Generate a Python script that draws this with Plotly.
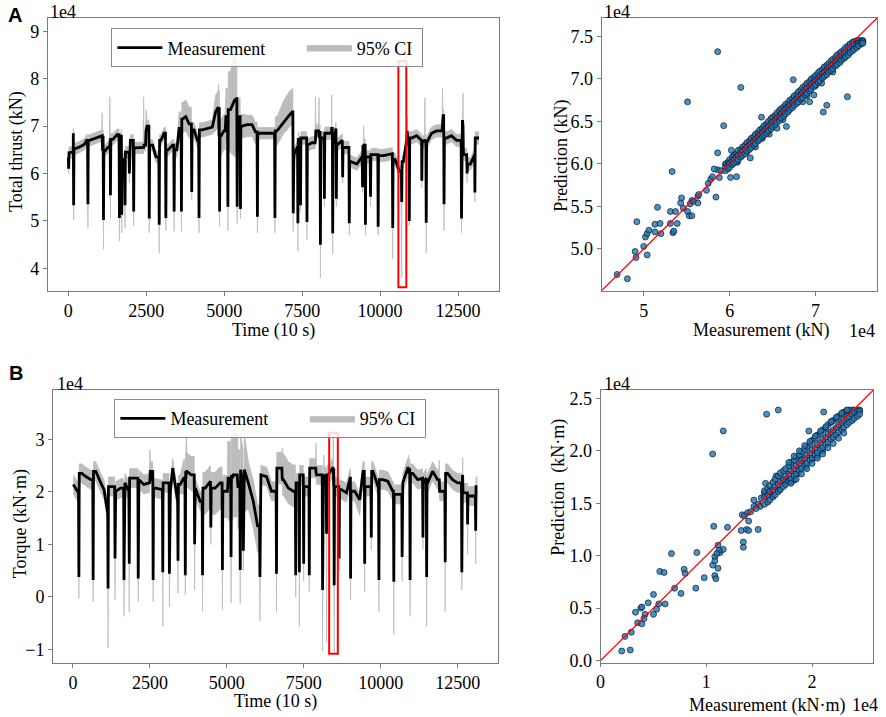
import numpy as np
import plotly.graph_objects as go

# ---------------- Panel A : total thrust (units of 1e4 kN) ----------------
A_base_t = [0, 75, 128, 200, 362, 521, 585, 681, 840, 1032,
            1181, 1266, 1426, 1564, 1745, 1883, 1990, 2139, 2330, 2458,
            2522, 2703, 2810, 2970, 3075, 3203, 3341, 3480, 3554, 3660,
            3767, 3873, 4033, 4139, 4299, 4458, 4618, 4724, 4799, 4905,
            4990, 5097, 5203, 5331, 5394, 5469, 5575, 5735, 5894, 6001,
            6161, 6373, 6693, 6916, 7076, 7182, 7235, 7342, 7501, 7661,
            7820, 7980, 8139, 8299, 8458, 8618, 8777, 8937, 9065, 9256,
            9416, 9522, 9682, 9895, 10108, 10321, 10480, 10618, 10746, 10852,
            11012, 11171, 11331, 11490, 11650, 11810, 12023, 12129, 12289, 12449,
            12640, 12768, 12896, 13034, 13172]
A_base_y = [6.34, 6.44, 6.45, 6.52, 6.56, 6.62, 6.70, 6.70, 6.74, 6.80,
            6.48, 6.55, 6.72, 6.82, 6.30, 6.45, 6.70, 6.54, 6.54, 6.60,
            7.00, 6.60, 6.35, 6.70, 6.85, 6.50, 6.60, 6.50, 6.95, 7.15,
            7.20, 7.05, 6.92, 6.70, 6.92, 6.95, 6.98, 7.30, 7.40, 6.80,
            6.90, 7.20, 7.35, 7.55, 7.58, 7.20, 7.00, 7.03, 7.03, 6.88,
            6.85, 6.85, 6.90, 7.10, 7.22, 7.30, 6.40, 6.55, 6.75, 6.60,
            6.65, 6.90, 6.75, 6.85, 6.95, 6.60, 6.70, 6.55, 6.25, 6.20,
            6.35, 6.60, 6.35, 6.40, 6.38, 6.42, 6.30, 6.05, 6.25, 6.70,
            6.75, 6.80, 6.70, 6.65, 6.85, 6.90, 7.22, 6.75, 6.80, 6.70,
            7.10, 6.40, 6.20, 6.40, 6.75]
A_ci_below = [0.12] * 27 + [0.15, 0.30, 0.30, 0.30, 0.30, 0.15, 0.15, 0.15, 0.15,
              0.15, 0.40, 0.40, 0.40, 0.40, 0.50, 0.90, 1.20, 1.10, 0.50,
              0.25, 0.25, 0.25, 0.25, 0.12, 0.12, 0.30, 0.25, 0.25, 0.25] + [0.13] * 39
A_ci_above = [0.12] * 27 + [0.15, 0.35, 0.35, 0.35, 0.35, 0.15, 0.15, 0.15, 0.15,
              0.15, 0.35, 0.35, 0.35, 0.35, 0.60, 0.80, 1.00, 0.80, 0.40,
              0.25, 0.20, 0.20, 0.20, 0.12, 0.12, 0.30, 0.45, 0.50, 0.50] + [0.13] * 39
A_dip_t = [11, 170, 628, 1128, 1351, 1639, 1713, 1819, 1958, 2096,
           2596, 2915, 3128, 3394, 3628, 3958, 4192, 4852, 5118, 5416,
           5522, 6065, 6627, 7214, 7363, 7448, 7655, 8086, 8214, 8480,
           8597, 8799, 9012, 9437, 9530, 9693, 9938, 10405, 10693, 10937,
           11338, 11480, 12051, 12611, 12790, 13040]
A_dip_y = [6.10, 5.33, 5.35, 5.02, 5.54, 5.06, 5.13, 5.33, 6.00, 5.20,
           5.05, 4.92, 5.06, 5.20, 5.20, 5.61, 5.06, 5.20, 5.30, 5.30,
           5.25, 5.09, 5.06, 5.16, 4.95, 5.33, 4.98, 4.50, 5.47, 4.74,
           5.47, 5.92, 4.95, 5.71, 4.92, 5.51, 4.88, 4.85, 5.40, 5.00,
           5.85, 4.96, 5.35, 5.05, 6.00, 5.60]
A_dip_ci = [6.00, 5.02, 4.85, 4.40, 5.05, 4.57, 4.75, 4.85, 5.80, 4.90,
            4.75, 4.33, 4.80, 4.78, 4.78, 5.45, 4.75, 4.88, 4.80, 4.95,
            5.05, 4.75, 4.75, 4.78, 4.36, 5.20, 4.60, 3.80, 5.30, 4.30,
            5.30, 5.80, 4.70, 5.60, 4.70, 5.30, 4.70, 4.20, 3.81, 4.90,
            5.70, 4.33, 4.80, 4.75, 5.80, 5.40]
A_up_t = [160, 1085, 1330, 2415, 2490, 4820, 5043, 7927, 8040, 8450, 9470, 10870, 11437, 12000, 12660]
A_up_y = [6.85, 6.80, 6.60, 6.55, 6.90, 7.30, 7.00, 6.70, 6.80, 6.95, 6.40, 6.90, 6.70, 7.20, 7.00]
A_up_ci = [6.95, 7.28, 7.62, 7.62, 7.35, 7.90, 7.80, 7.62, 7.60, 7.66, 7.00, 7.20, 7.60, 7.80, 7.70]
A_box = [10586, 10841, 3.60, 8.37]   # highlighted window (time0, time1, low, high)

# ---------------- Panel B : torque (units of 1e4 kN·m) ----------------
B_base_t = [11, 151, 291, 420, 582, 743, 905, 1012, 1120, 1228,
            1389, 1551, 1691, 1820, 1982, 2143, 2305, 2466, 2542, 2682,
            2843, 3005, 3166, 3242, 3382, 3489, 3597, 3705, 3845, 3974,
            4136, 4297, 4459, 4620, 4782, 4943, 5105, 5267, 5428, 5568,
            5697, 5859, 5999, 6107, 6290, 6451, 6667, 6839, 7000, 7162,
            7324, 7485, 7647, 7808, 7970, 8131, 8293, 8433, 8562, 8724,
            8885, 9014, 9154, 9316, 9424, 9585, 9747, 9908, 10070, 10231,
            10393, 10554, 10716, 10877, 11039, 11200, 11362, 11523, 11685, 11846,
            12008, 12169, 12331, 12492, 12654, 12815, 12977, 13138]
B_base_y = [2.14, 2.01, 2.35, 2.29, 2.23, 2.39, 2.17, 2.04, 1.63, 2.10,
            2.01, 2.07, 2.17, 2.01, 2.26, 2.23, 2.14, 2.17, 2.39, 2.07,
            2.04, 2.17, 2.01, 2.45, 1.82, 2.14, 2.26, 2.39, 2.32, 2.07,
            1.82, 2.07, 2.20, 2.07, 2.17, 2.01, 2.26, 2.32, 2.10, 2.42,
            2.17, 1.82, 1.35, 2.32, 2.29, 2.01, 2.45, 2.23, 2.07, 2.01,
            2.17, 2.32, 2.10, 2.45, 2.32, 2.26, 2.32, 2.45, 2.10, 2.04,
            1.98, 2.26, 2.01, 1.85, 2.39, 2.10, 2.39, 2.07, 2.23, 2.20,
            2.01, 1.95, 2.17, 2.45, 2.35, 2.23, 2.26, 2.17, 2.39, 2.23,
            2.01, 2.35, 2.23, 2.17, 2.32, 1.98, 1.92, 2.10]
B_ci_below = [0.18] * 26 + [0.30, 0.30, 0.30, 0.18, 0.18, 0.50, 0.50, 0.50, 0.50, 0.50,
              0.80, 0.80, 0.80, 0.80, 0.50, 0.50, 0.50, 0.18, 0.18, 0.18,
              0.30, 0.30, 0.30, 0.30] + [0.18] * 13 + [0.30] + [0.18] * 24
B_ci_above = [0.18] * 26 + [0.35, 0.35, 0.35, 0.18, 0.18, 0.30, 0.30, 0.30, 0.30, 0.30,
              0.70, 0.80, 0.70, 0.70, 0.40, 0.40, 0.40, 0.18, 0.18, 0.18,
              0.30, 0.50, 0.50, 0.50] + [0.18] * 13 + [0.10] + [0.18] * 24
B_dip_t = [194, 657, 1142, 1368, 1659, 1830, 2122, 2606, 2919, 3134,
           3414, 3651, 3953, 4211, 4480, 4857, 5137, 5435, 5536, 6075,
           6613, 7237, 7356, 7495, 7679, 8110, 8239, 8487, 8648, 9020,
           9477, 9693, 9940, 10424, 10694, 10953, 11370, 11491, 12094, 12633,
           12820, 13084]
B_dip_y = [0.38, 0.32, 0.16, 0.73, 0.32, 0.63, 0.35, 0.32, 0.47, 0.44,
           0.69, 0.41, 1.00, 0.41, 1.32, 0.51, 0.76, 0.51, 0.88, 0.38,
           0.44, 0.41, 0.47, 0.63, 0.41, 0.13, 1.20, 0.22, 0.73, 0.35,
           0.63, 1.13, 0.32, 0.29, 0.76, 0.32, 1.13, 0.38, 0.66, 0.47,
           1.38, 1.26]
B_dip_ci = [-0.03, -0.09, -0.97, -0.06, -0.37, -0.28, -0.09, -0.09, -0.56, -0.18,
            0.07, 0.04, 0.13, -0.28, 1.00, -0.25, -0.12, -0.12, 0.50, -0.46,
            -0.28, 0.00, -0.56, 0.30, 0.10, -1.03, -0.87, -1.06, 0.50, -0.06,
            0.10, 0.90, -0.28, -0.72, 0.29, -0.37, 0.90, -0.56, -0.28, 0.13,
            0.82, 0.63]
B_up_t = [2500, 3680, 5030, 5200, 5350, 6800, 7900, 8150, 8460, 10900, 11900, 12660]
B_up_y = [2.20, 2.35, 2.10, 2.30, 2.20, 2.25, 2.35, 2.30, 2.40, 2.40, 2.25, 2.30]
B_up_ci = [2.80, 3.15, 2.95, 3.10, 3.10, 2.83, 2.93, 2.70, 3.20, 2.70, 2.60, 2.65]
B_box = [8324, 8605, -1.08, 3.12]

# ---------------- scatter: measurement vs prediction ----------------
A_out_meas = [5.86, 6.13, 5.51, 5.93, 5.33, 5.86, 5.16, 4.92, 4.90, 4.91,
              4.69, 4.81, 5.00, 5.04, 5.02, 5.04, 5.06, 5.13, 5.19, 5.13,
              5.20, 5.31, 5.37, 5.31, 5.34, 5.35, 5.39, 5.44, 5.43, 5.46,
              5.51, 5.53, 5.56, 5.56, 5.54, 5.58, 5.63, 5.63, 5.64, 5.73,
              5.75, 5.78, 5.80, 5.84, 5.88, 5.86, 5.82, 5.96, 6.01, 6.08,
              6.24, 6.38, 6.44, 6.66, 7.07, 7.13, 7.09, 7.37, 6.74, 6.09,
              6.14, 6.98, 6.37, 6.05, 6.02, 6.93, 6.85, 5.90, 6.30, 6.55,
              6.62, 6.90, 7.00, 7.20, 6.20, 6.46]
A_out_pred = [7.32, 6.90, 6.73, 6.45, 5.91, 6.13, 5.49, 5.32, 4.97, 4.90,
              4.70, 4.65, 5.03, 4.93, 5.14, 5.18, 5.22, 5.29, 5.30, 5.20,
              5.18, 5.44, 5.44, 5.30, 5.19, 5.21, 5.30, 5.60, 5.54, 5.48,
              5.44, 5.39, 5.39, 5.57, 5.53, 5.56, 5.54, 5.62, 5.64, 5.69,
              5.77, 5.82, 5.85, 5.61, 5.84, 5.93, 5.94, 6.00, 5.84, 5.85,
              6.07, 6.30, 6.39, 6.44, 6.95, 6.69, 6.61, 6.79, 6.99, 6.02,
              6.16, 6.81, 6.55, 6.10, 6.16, 6.73, 6.73, 5.92, 6.20, 6.42,
              6.52, 6.80, 6.92, 7.08, 6.14, 6.35]
A_band_meas = [5.95, 5.98, 6.00, 6.03, 6.05, 6.08, 6.10, 6.13, 6.15, 6.18,
               6.20, 6.23, 6.25, 6.28, 6.30, 6.33, 6.35, 6.38, 6.40, 6.43,
               6.45, 6.48, 6.50, 6.53, 6.55, 6.58, 6.60, 6.63, 6.65, 6.68,
               6.70, 6.73, 6.75, 6.78, 6.80, 6.83, 6.85, 6.88, 6.90, 6.93,
               6.95, 6.98, 7.00, 7.03, 7.05, 7.08, 7.10, 7.13, 7.15, 7.18,
               7.20, 7.23, 7.25, 7.28, 7.30, 7.33, 7.35, 7.38, 7.40, 7.43,
               7.45, 7.48, 7.50, 7.53, 7.55]
A_band_pred_hi = [6.00, 6.02, 6.05, 6.08, 6.10, 6.12, 6.16, 6.17, 6.20, 6.22,
                  6.25, 6.27, 6.30, 6.32, 6.35, 6.37, 6.40, 6.42, 6.45, 6.47,
                  6.50, 6.53, 6.55, 6.57, 6.60, 6.63, 6.65, 6.67, 6.70, 6.72,
                  6.75, 6.77, 6.80, 6.82, 6.85, 6.87, 6.90, 6.92, 6.95, 6.97,
                  7.00, 7.02, 7.04, 7.07, 7.09, 7.11, 7.14, 7.16, 7.18, 7.21,
                  7.23, 7.25, 7.28, 7.30, 7.32, 7.34, 7.37, 7.39, 7.41, 7.43,
                  7.44, 7.45, 7.45, 7.45, 7.45]
A_band_pred_mid = [5.96, 5.98, 6.01, 6.03, 6.05, 6.08, 6.10, 6.12, 6.15, 6.17,
                   6.20, 6.22, 6.24, 6.27, 6.29, 6.32, 6.34, 6.37, 6.39, 6.42,
                   6.44, 6.47, 6.49, 6.52, 6.54, 6.57, 6.59, 6.62, 6.64, 6.67,
                   6.69, 6.72, 6.74, 6.76, 6.79, 6.81, 6.84, 6.86, 6.89, 6.91,
                   6.94, 6.96, 6.98, 7.01, 7.03, 7.06, 7.08, 7.10, 7.13, 7.15,
                   7.17, 7.20, 7.22, 7.24, 7.27, 7.29, 7.31, 7.34, 7.36, 7.38,
                   7.40, 7.41, 7.42, 7.43, 7.44]
A_band_pred_lo = [5.92, 5.94, 5.96, 5.99, 6.01, 6.03, 6.05, 6.08, 6.10, 6.12,
                  6.15, 6.17, 6.19, 6.22, 6.24, 6.27, 6.29, 6.32, 6.34, 6.36,
                  6.39, 6.41, 6.44, 6.46, 6.49, 6.51, 6.54, 6.56, 6.59, 6.61,
                  6.64, 6.66, 6.69, 6.71, 6.73, 6.76, 6.78, 6.81, 6.83, 6.86,
                  6.88, 6.91, 6.93, 6.96, 6.98, 7.01, 7.03, 7.05, 7.08, 7.10,
                  7.12, 7.15, 7.17, 7.19, 7.22, 7.24, 7.26, 7.28, 7.31, 7.33,
                  7.35, 7.37, 7.39, 7.41, 7.42]

B_out_meas = [1.68, 1.57, 1.16, 1.06, 2.11, 1.97, 1.07, 1.20, 0.67, 0.91,
              0.56, 0.60, 0.79, 0.80, 0.98, 1.08, 1.09, 1.08, 1.06, 1.08,
              1.11, 1.13, 1.16, 1.11, 0.70, 0.76, 0.90, 0.50, 0.45, 0.50,
              0.53, 0.55, 0.61, 0.33, 0.38, 0.39, 0.42, 0.35, 0.39, 0.41,
              0.23, 0.29, 0.20, 0.28, 1.33, 1.38, 1.40, 1.35, 1.35, 1.49,
              1.40, 1.34, 1.39, 1.42, 1.45, 1.49, 1.56, 1.51, 1.76, 1.69,
              1.36, 1.45, 1.47, 1.52, 1.55, 1.60, 1.62, 1.66, 1.72, 1.80,
              1.83, 1.86, 1.90, 1.94, 2.00, 2.05, 2.10, 1.12, 1.10]
B_out_pred = [2.39, 2.35, 2.19, 1.97, 2.37, 2.19, 1.28, 1.27, 1.02, 1.03,
              0.85, 0.84, 0.87, 0.83, 0.79, 0.81, 0.78, 0.99, 0.91, 0.95,
              1.10, 1.03, 1.06, 0.88, 0.69, 0.64, 0.69, 0.63, 0.55, 0.44,
              0.49, 0.54, 0.54, 0.46, 0.50, 0.51, 0.44, 0.36, 0.35, 0.40,
              0.23, 0.27, 0.09, 0.10, 1.24, 1.25, 1.24, 1.13, 1.08, 1.25,
              1.33, 1.39, 1.41, 1.42, 1.53, 1.49, 1.69, 1.47, 1.71, 1.63,
              1.38, 1.47, 1.45, 1.55, 1.60, 1.62, 1.57, 1.76, 1.72, 1.70,
              1.72, 1.78, 1.92, 1.85, 1.92, 1.95, 2.00, 1.05, 1.02]
B_band_meas = [1.55, 1.58, 1.60, 1.63, 1.65, 1.68, 1.70, 1.73, 1.75, 1.78,
               1.80, 1.83, 1.85, 1.88, 1.90, 1.93, 1.95, 1.98, 2.00, 2.03,
               2.05, 2.08, 2.10, 2.13, 2.15, 2.18, 2.20, 2.23, 2.25, 2.28,
               2.30, 2.33, 2.35, 2.38, 2.40, 2.43, 2.45]
B_band_pred_hi = [1.62, 1.64, 1.67, 1.70, 1.73, 1.76, 1.79, 1.81, 1.83, 1.86,
                  1.89, 1.91, 1.94, 1.96, 1.99, 2.02, 2.04, 2.07, 2.10, 2.12,
                  2.15, 2.17, 2.20, 2.22, 2.25, 2.27, 2.29, 2.31, 2.33, 2.35,
                  2.37, 2.38, 2.39, 2.39, 2.39, 2.39, 2.39]
B_band_pred_mid = [1.56, 1.58, 1.61, 1.63, 1.66, 1.68, 1.71, 1.73, 1.76, 1.78,
                   1.81, 1.83, 1.86, 1.88, 1.91, 1.93, 1.96, 1.98, 2.01, 2.03,
                   2.06, 2.08, 2.11, 2.13, 2.16, 2.18, 2.20, 2.22, 2.25, 2.27,
                   2.29, 2.31, 2.33, 2.35, 2.37, 2.38, 2.38]
B_band_pred_lo = [1.49, 1.51, 1.53, 1.56, 1.58, 1.61, 1.63, 1.66, 1.68, 1.71,
                  1.73, 1.76, 1.78, 1.81, 1.83, 1.86, 1.88, 1.91, 1.93, 1.96,
                  1.98, 2.01, 2.03, 2.06, 2.08, 2.11, 2.13, 2.15, 2.18, 2.20,
                  2.22, 2.25, 2.27, 2.29, 2.31, 2.33, 2.35]
B_wide_meas = [1.78, 1.83, 1.88, 1.93, 1.98, 2.03, 2.08, 2.13, 2.18, 2.23, 2.28, 2.33,
               1.80, 1.85, 1.90, 1.95, 2.00, 2.05, 2.10, 2.15, 2.20, 2.25, 2.30]
B_wide_pred = [1.89, 1.95, 2.00, 2.05, 2.09, 2.14, 2.19, 2.23, 2.28, 2.32, 2.36, 2.39,
               1.69, 1.73, 1.78, 1.83, 1.88, 1.93, 1.97, 2.03, 2.07, 2.12, 2.17]

A_time_ticks = [0, 2500, 5000, 7500, 10000, 12500]
A_time_labels = ["0", "2500", "5000", "7500", "10000", "12500"]
A_y_ticks = [4, 5, 6, 7, 8, 9]
B_y_ticks = [-1, 0, 1, 2, 3]
A_sc_ticks_x = [5, 6, 7]
A_sc_ticks_y = [5.0, 5.5, 6.0, 6.5, 7.0, 7.5]
B_sc_ticks_x = [0, 1, 2]
B_sc_ticks_y = [0.0, 0.5, 1.0, 1.5, 2.0, 2.5]


def build(bt, by, below, above, dt, dy, dci, ut, uy, uci, half=12.0):
    bt = np.asarray(bt, float)
    by = np.asarray(by, float)
    lo = by - np.asarray(below, float)
    hi = by + np.asarray(above, float)
    T, Y, L, H = list(bt), list(by), list(lo), list(hi)
    ev = [(t, y, c, y) for t, y, c in zip(dt, dy, dci)] + \
         [(t, y, y - 0.08, c) for t, y, c in zip(ut, uy, uci)]
    for t, y, l, h in ev:
        i = int(np.searchsorted(bt, t))
        p = max(i - 1, 0)
        n = min(i, len(bt) - 1)
        T += [t - half, t, t + half]
        Y += [by[p], y, by[n]]
        L += [lo[p], l, lo[n]]
        H += [hi[p], h, hi[n]]
    o = np.argsort(np.asarray(T), kind="stable")
    return (np.asarray(T)[o], np.asarray(Y)[o], np.asarray(L)[o], np.asarray(H)[o])


SERIF = "Liberation Serif"
GREY = "#bcbcbc"
AX = "#7a7a7a"

fig = go.Figure()


def add_ts(series, xa, ya, legend):
    t, y, lo, hi = series
    fig.add_trace(go.Scatter(x=t, y=lo, mode="lines", line=dict(color=GREY, width=0.8),
                             showlegend=False, hoverinfo="skip", xaxis=xa, yaxis=ya))
    fig.add_trace(go.Scatter(x=t, y=hi, mode="lines", line=dict(color=GREY, width=0.8),
                             fill="tonexty", fillcolor=GREY, name="95% CI\u00a0", legend=legend,
                             legendrank=2, xaxis=xa, yaxis=ya))
    fig.add_trace(go.Scatter(x=t, y=y, mode="lines", line=dict(color="black", width=2.8),
                             name="Measurement" + "\u00a0" * 7, legend=legend, legendrank=1,
                             xaxis=xa, yaxis=ya))


def add_sc(meas, pred, rng, xa, ya):
    fig.add_trace(go.Scatter(x=meas, y=pred, mode="markers", showlegend=False,
                             marker=dict(size=6, color="rgba(31,119,180,0.8)",
                                         line=dict(color="rgba(10,20,40,0.85)", width=0.8)),
                             xaxis=xa, yaxis=ya))
    fig.add_trace(go.Scatter(x=rng, y=rng, mode="lines", showlegend=False,
                             line=dict(color="red", width=1.3), xaxis=xa, yaxis=ya))


A_series = build(A_base_t, A_base_y, A_ci_below, A_ci_above, A_dip_t, A_dip_y, A_dip_ci,
                 A_up_t, A_up_y, A_up_ci)
B_series = build(B_base_t, B_base_y, B_ci_below, B_ci_above, B_dip_t, B_dip_y, B_dip_ci,
                 B_up_t, B_up_y, B_up_ci)

add_ts(A_series, "x", "y", "legend")
A_rng = [4.51, 7.715]
add_sc(A_out_meas + A_band_meas * 3,
       A_out_pred + A_band_pred_hi + A_band_pred_mid + A_band_pred_lo,
       A_rng, "x2", "y2")
add_ts(B_series, "x3", "y3", "legend2")
B_rng = [-0.02, 2.58]
add_sc(B_out_meas + B_band_meas * 3 + B_wide_meas,
       B_out_pred + B_band_pred_hi + B_band_pred_mid + B_band_pred_lo + B_wide_pred,
       B_rng, "x4", "y4")

W, Hh = 886, 717


def px(x):
    return x / W


def py(y):
    return 1 - y / Hh


tickfont = dict(family=SERIF, size=18, color="black")
base_ax = dict(showline=True, mirror=True, linecolor=AX, linewidth=1, ticks="outside",
               ticklen=4, tickcolor=AX, showgrid=False, zeroline=False, tickfont=tickfont)

legend_style = dict(xanchor="left", yanchor="top", orientation="h",
                    bgcolor="rgba(255,255,255,0.85)", bordercolor="#8a8a8a", borderwidth=1,
                    font=dict(family=SERIF, size=18), itemwidth=45, traceorder="normal")

fig.update_layout(
    width=W, height=Hh, margin=dict(l=0, r=0, t=0, b=0),
    paper_bgcolor="white", plot_bgcolor="white",
    font=dict(family=SERIF, size=18, color="black"),
    xaxis=dict(base_ax, domain=[px(43), px(497)], range=[-660, 13820],
               tickvals=A_time_ticks, ticktext=A_time_labels, anchor="y"),
    yaxis=dict(base_ax, domain=[py(293.3), py(17.3)], range=[3.53, 9.28],
               tickvals=A_y_ticks, anchor="x"),
    xaxis2=dict(base_ax, domain=[px(600), px(877)], range=A_rng,
                tickvals=A_sc_ticks_x, anchor="y2"),
    yaxis2=dict(base_ax, domain=[py(293.3), py(17.3)], range=A_rng,
                tickvals=A_sc_ticks_y, tickformat=".1f", anchor="x2"),
    xaxis3=dict(base_ax, domain=[px(48.3), px(496)], range=[-646, 13815],
                tickvals=A_time_ticks, ticktext=A_time_labels, anchor="y3"),
    yaxis3=dict(base_ax, domain=[py(670), py(394.3)], range=[-1.25, 3.93],
                tickvals=B_y_ticks, anchor="x3"),
    xaxis4=dict(base_ax, domain=[px(599), px(873.3)], range=[0, 2.58],
                tickvals=B_sc_ticks_x, anchor="y4", ticklen=3),
    yaxis4=dict(base_ax, domain=[py(670), py(394)], range=B_rng,
                tickvals=B_sc_ticks_y, tickformat=".1f", anchor="x4"),
    legend=dict(legend_style, x=px(107), y=py(27.7)),
    legend2=dict(legend_style, x=px(110), y=py(403.3)),
)

for box, xr, yr in [(A_box, "x", "y"), (B_box, "x3", "y3")]:
    fig.add_shape(type="rect", xref=xr, yref=yr, x0=box[0], x1=box[1], y0=box[2], y1=box[3],
                  line=dict(color="red", width=2), fillcolor="rgba(0,0,0,0)")


def ann(text, x, y, xanchor="center", angle=0, size=18, family=SERIF, bold=False):
    if bold:
        text = "<b>" + text + "</b>"
    fig.add_annotation(text=text, x=px(x), y=py(y), xref="paper", yref="paper",
                       xanchor=xanchor, yanchor="middle", showarrow=False, textangle=angle,
                       font=dict(family=family, size=size, color="black"))


ann("A", 10.5, 14, size=20, family="Liberation Sans", bold=True)
ann("B", 11.5, 377, size=20, family="Liberation Sans", bold=True)
ann("1e4", 43, 11, xanchor="left")
ann("1e4", 600, 11, xanchor="left")
ann("1e4", 877, 334, xanchor="right")
ann("Measurement (kN)", 760, 334)
ann("Time (10 s)", 270, 334)
ann("Total thrust (kN)", 11, 152, angle=-90)
ann("Prediction (kN)", 559, 157, angle=-90)
ann("Torque (kN·m)", 15, 529, angle=-90)
ann("Time (10 s)", 272, 709)
ann("Prediction  (kN·m)", 557, 492, angle=-90)
ann("Measurement (kN·m)", 766, 713)
ann("1e4", 880, 713, xanchor="right")
ann("1e4", 50, 388, xanchor="left")
ann("1e4", 600, 388, xanchor="left")

fig.write_html("out.html", config={"displayModeBar": False},
               post_script="document.body.style.margin='0px';")
